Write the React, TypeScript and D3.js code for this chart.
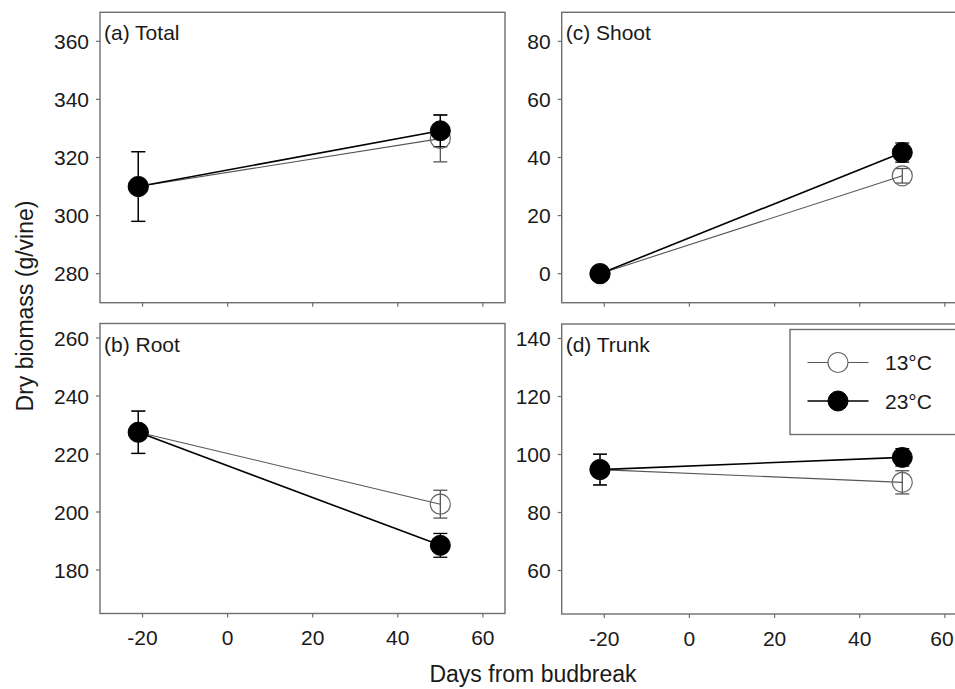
import React from "react";
import * as d3 from "d3";

const days = [-21, 50];
const xTicks = [-20, 0, 20, 40, 60];
const seriesNames = ["13°C", "23°C"];

const totalCool = [310, 326.5];
const totalCoolErr = [12, 8];
const totalWarm = [310, 329.2];
const totalWarmErr = [12, 5.5];

const rootCool = [227.5, 202.7];
const rootCoolErr = [7.3, 4.8];
const rootWarm = [227.5, 188.5];
const rootWarmErr = [7.3, 4.1];

const shootCool = [0, 33.7];
const shootCoolErr = [0, 2.5];
const shootWarm = [0, 41.7];
const shootWarmErr = [0, 3.3];

const trunkCool = [94.8, 90.4];
const trunkCoolErr = [5.3, 4];
const trunkWarm = [94.8, 99];
const trunkWarmErr = [5.3, 3];

const totalTicks = [280, 300, 320, 340, 360];
const rootTicks = [180, 200, 220, 240, 260];
const shootTicks = [0, 20, 40, 60, 80];
const trunkTicks = [60, 80, 100, 120, 140];

const FONT = "'Liberation Sans', Arial, Helvetica, sans-serif";
const FRAME = "#6e6e6e";
const TEXT = "#1a1a1a";
const FS = 21;

type PanelProps = {
  label: string;
  x0: number; x1: number; y0: number; y1: number;
  yDomain: [number, number];
  yTicks: number[];
  cool: number[]; coolErr: number[];
  warm: number[]; warmErr: number[];
  legend?: boolean;
};

function Panel(p: PanelProps) {
  const x = d3.scaleLinear().domain([-30, 65.2]).range([p.x0, p.x1]);
  const y = d3.scaleLinear().domain(p.yDomain).range([p.y1, p.y0]);
  const line = d3.line<number>().x((_, i) => x(days[i])).y((v) => y(v));
  const series = [
    { vals: p.cool, err: p.coolErr, stroke: "#555", sw: 1.1, fill: "none", mstroke: "#666", mw: 1.2 },
    { vals: p.warm, err: p.warmErr, stroke: "#000", sw: 1.6, fill: "#000", mstroke: "#000", mw: 1 },
  ];
  const cap = 7;
  return (
    <g>
      <rect x={p.x0} y={p.y0} width={p.x1 - p.x0} height={p.y1 - p.y0} fill="none" stroke={FRAME} strokeWidth={1.4} />
      {xTicks.map((t) => (
        <g key={"xt" + t}>
          <line x1={x(t)} x2={x(t)} y1={p.y1} y2={p.y1 + 4} stroke={FRAME} strokeWidth={1.2} />
          {p.y0 > 200 && (
            <text x={Math.min(x(t), 942)} y={p.y1 + 31.5} textAnchor="middle" fontSize={FS} fontFamily={FONT} fill={TEXT}>{t}</text>
          )}
        </g>
      ))}
      {p.yTicks.map((t) => (
        <g key={"yt" + t}>
          <line x1={p.x0 - 4} x2={p.x0} y1={y(t)} y2={y(t)} stroke={FRAME} strokeWidth={1.2} />
          <text x={p.x0 - 11} y={y(t)} dy="0.36em" textAnchor="end" fontSize={FS} fontFamily={FONT} fill={TEXT}>{t}</text>
        </g>
      ))}
      <text x={p.x0 + 4} y={p.y0 + 28} fontSize={FS} fontFamily={FONT} fill={TEXT}>{p.label}</text>
      {series.map((s, si) => (
        <g key={"l" + si}>
          <path d={line(s.vals) || ""} fill="none" stroke={s.stroke} strokeWidth={s.sw} />
          {s.vals.map((v, i) =>
            s.err[i] > 0 ? (
              <g key={i} stroke={si === 0 ? "#555" : "#000"} strokeWidth={1.3}>
                <line x1={x(days[i])} x2={x(days[i])} y1={y(v - s.err[i])} y2={y(v + s.err[i])} />
                <line x1={x(days[i]) - cap} x2={x(days[i]) + cap} y1={y(v - s.err[i])} y2={y(v - s.err[i])} />
                <line x1={x(days[i]) - cap} x2={x(days[i]) + cap} y1={y(v + s.err[i])} y2={y(v + s.err[i])} />
              </g>
            ) : null
          )}
        </g>
      ))}
      {series.map((s, si) => (
        <g key={"m" + si}>
          {s.vals.map((v, i) => (
            <circle key={i} cx={x(days[i])} cy={y(v)} r={10} fill={s.fill} stroke={s.mstroke} strokeWidth={s.mw} />
          ))}
        </g>
      ))}
      {p.legend && (
        <g>
          <rect x={790} y={329.5} width={200} height={105} fill="#fff" stroke={FRAME} strokeWidth={1.4} />
          {series.map((s, si) => {
            const ly = 362.5 + si * 38.5;
            return (
              <g key={"lg" + si}>
                <line x1={807.5} x2={868.5} y1={ly} y2={ly} stroke={s.stroke} strokeWidth={s.sw} />
                <circle cx={838} cy={ly} r={10} fill={s.fill === "none" ? "#fff" : s.fill} stroke={s.mstroke} strokeWidth={s.mw} />
                <text x={885} y={ly} dy="0.36em" fontSize={FS} fontFamily={FONT} fill={TEXT}>{seriesNames[si]}</text>
              </g>
            );
          })}
        </g>
      )}
    </g>
  );
}

export default function App() {
  return (
    <svg width={955} height={689} style={{ position: "absolute", left: 0, top: 0, background: "#fff" }}>
      <rect x={0} y={0} width={955} height={689} fill="#fff" />
      <Panel label="(a) Total" x0={100} x1={505} y0={12.3} y1={302.7} yDomain={[270, 370]} yTicks={totalTicks}
        cool={totalCool} coolErr={totalCoolErr} warm={totalWarm} warmErr={totalWarmErr} />
      <Panel label="(c) Shoot" x0={561.7} x1={967} y0={12.3} y1={302.7} yDomain={[-10, 90]} yTicks={shootTicks}
        cool={shootCool} coolErr={shootCoolErr} warm={shootWarm} warmErr={shootWarmErr} />
      <Panel label="(b) Root" x0={100} x1={505} y0={323.5} y1={613.5} yDomain={[165, 265]} yTicks={rootTicks}
        cool={rootCool} coolErr={rootCoolErr} warm={rootWarm} warmErr={rootWarmErr} />
      <Panel label="(d) Trunk" x0={561.7} x1={967} y0={324} y1={614} yDomain={[45, 145]} yTicks={trunkTicks}
        cool={trunkCool} coolErr={trunkCoolErr} warm={trunkWarm} warmErr={trunkWarmErr} legend />
      <text x={533} y={682} textAnchor="middle" fontSize={23} fontFamily={FONT} fill={TEXT}>Days from budbreak</text>
      <text transform="translate(33,306) rotate(-90)" textAnchor="middle" fontSize={23} fontFamily={FONT} fill={TEXT}>Dry biomass (g/vine)</text>
    </svg>
  );
}
